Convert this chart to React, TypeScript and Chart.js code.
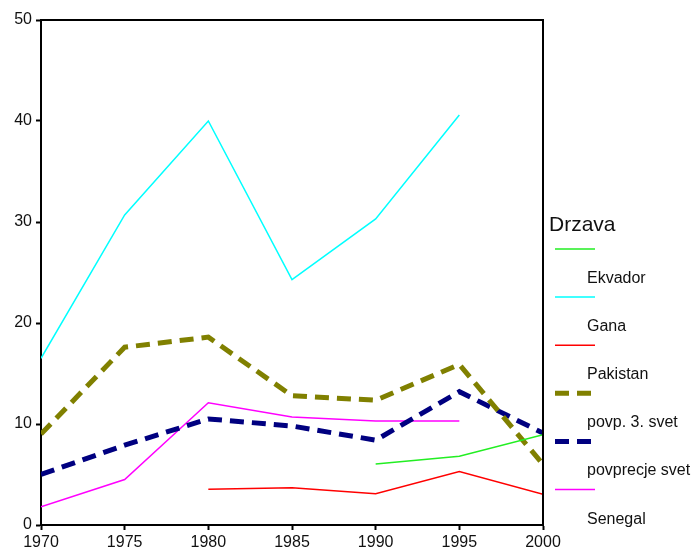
import React, { useEffect, useRef } from "react";
import { Chart, registerables } from "chart.js";

Chart.register(...registerables);

const years = [1970, 1975, 1980, 1985, 1990, 1995, 2000];
const seriesNames = ["Ekvador", "Gana", "Pakistan", "povp. 3. svet", "povprecje svet", "Senegal"];
const ekvador = [null, null, null, null, 6.05, 6.8, 8.95];
const gana = [16.5, 30.7, 40.0, 24.3, 30.3, 40.6, null];
const pakistan = [null, null, 3.55, 3.7, 3.1, 5.3, 3.05];
const povp3svet = [9.0, 17.6, 18.6, 12.8, 12.35, 15.9, 6.0];
const povprecjeSvet = [5.0, 7.9, 10.5, 9.8, 8.4, 13.2, 9.1];
const senegal = [1.8, 4.5, 12.1, 10.7, 10.3, 10.3, null];
const xTicks = [1970, 1975, 1980, 1985, 1990, 1995, 2000];
const yTicks = [0, 10, 20, 30, 40, 50];
const legendTitle = "Drzava";

const FONT = "'Liberation Sans', Arial, sans-serif";

function toPoints(vals: (number | null)[]) {
  const pts: { x: number; y: number }[] = [];
  vals.forEach((v, i) => {
    if (v !== null) pts.push({ x: years[i], y: v });
  });
  return pts;
}

const frameAndLegend = {
  id: "frameAndLegend",
  afterDraw(chart: any) {
    const ctx = chart.ctx as CanvasRenderingContext2D;
    const a = chart.chartArea;
    ctx.save();
    ctx.strokeStyle = "#000";
    ctx.lineWidth = 2;
    ctx.beginPath();
    ctx.moveTo(a.left, a.top);
    ctx.lineTo(a.right, a.top);
    ctx.lineTo(a.right, a.bottom);
    ctx.stroke();

    // legend
    ctx.fillStyle = "#111";
    ctx.font = `21px ${FONT}`;
    ctx.textBaseline = "alphabetic";
    ctx.textAlign = "left";
    ctx.fillText(legendTitle, 549, 230.5);
    chart.data.datasets.forEach((ds: any, i: number) => {
      const y = 249 + 48.1 * i;
      ctx.beginPath();
      ctx.strokeStyle = ds.borderColor;
      ctx.lineWidth = ds.borderWidth;
      ctx.setLineDash(ds.borderDash || []);
      ctx.moveTo(555, y);
      ctx.lineTo(595, y);
      ctx.stroke();
      ctx.setLineDash([]);
      ctx.fillStyle = "#111";
      ctx.font = `16px ${FONT}`;
      ctx.textBaseline = "alphabetic";
      ctx.fillText(ds.label, 587, y + 34);
    });
    ctx.restore();
  },
};

export default function App() {
  const ref = useRef<HTMLCanvasElement | null>(null);
  useEffect(() => {
    if (!ref.current) return;
    const colors = ["#22ee22", "#00ffff", "#ff0000", "#808000", "#000080", "#ff00ff"];
    const vals = [ekvador, gana, pakistan, povp3svet, povprecjeSvet, senegal];
    const chart = new Chart(ref.current, {
      type: "line",
      data: {
        datasets: vals.map((v, i) => ({
          label: seriesNames[i],
          data: toPoints(v),
          borderColor: colors[i],
          backgroundColor: colors[i],
          borderWidth: i === 3 || i === 4 ? 5 : 1.5,
          borderDash: i === 3 || i === 4 ? [14, 8] : [],
          pointRadius: 0,
          tension: 0,
          fill: false,
        })),
      },
      options: {
        animation: false,
        responsive: false,
        layout: { padding: { top: 20, right: 153, left: 0, bottom: 0 } },
        plugins: { legend: { display: false }, tooltip: { enabled: false } },
        scales: {
          x: {
            type: "linear",
            min: 1970,
            max: 2000,
            afterBuildTicks: (s: any) => {
              s.ticks = xTicks.map((v) => ({ value: v }));
            },
            afterFit: (s: any) => {
              s.height = 27;
            },
            ticks: {
              color: "#111",
              font: { family: FONT, size: 16 },
              padding: 3,
              maxRotation: 0,
              callback: (v: any) => String(v),
            },
            grid: { drawOnChartArea: false, drawTicks: true, tickLength: 5, tickColor: "#000", tickWidth: 2 },
            border: { display: true, color: "#000", width: 2 },
          },
          y: {
            min: 0,
            max: 50,
            afterBuildTicks: (s: any) => {
              s.ticks = yTicks.map((v) => ({ value: v }));
            },
            afterFit: (s: any) => {
              s.width = 41;
            },
            ticks: { color: "#111", font: { family: FONT, size: 16 }, padding: 4, callback: (v: any) => String(v) },
            grid: { drawOnChartArea: false, drawTicks: true, tickLength: 5, tickColor: "#000", tickWidth: 2 },
            border: { display: true, color: "#000", width: 2 },
          },
        },
      },
      plugins: [frameAndLegend],
    });
    return () => chart.destroy();
  }, []);
  return (
    <div style={{ position: "absolute", left: 0, top: 0, width: 696, height: 552, background: "#fff" }}>
      <canvas ref={ref} width={696} height={552} style={{ display: "block" }} />
    </div>
  );
}
